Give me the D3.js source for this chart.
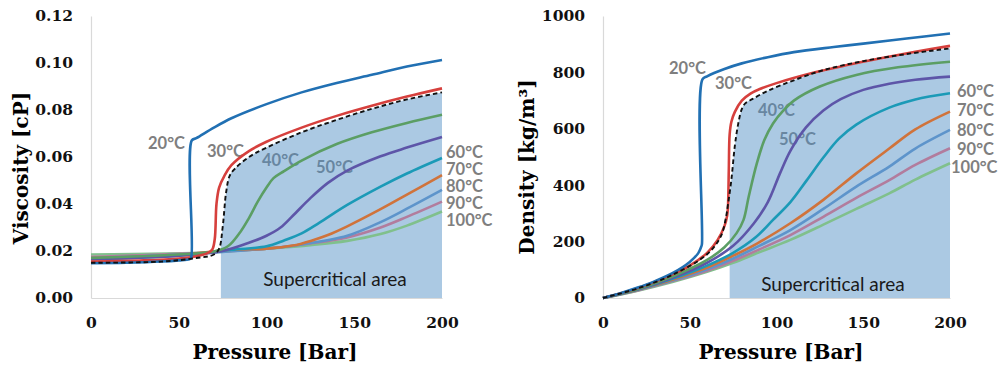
<!DOCTYPE html>
<html>
<head>
<meta charset="utf-8">
<script src="https://cdn.jsdelivr.net/npm/d3@7"></script>
<style>
  body { margin: 0; background: #fff; }
  svg { display: block; }
  .tick text { font-family: "DejaVu Serif", serif; font-weight: bold; font-size: 15.5px; fill: #111; }
</style>
</head>
<body>
<svg id="chart" width="1004" height="365"></svg>
<script>
// temperatures, in the order of the series below
const temps = ['20', '30', '40', '50', '60', '70', '80', '90', '100'];
const colors = ['#2170b3', '#d6403d', '#5b9e64', '#5d55a8', '#1b9ab7', '#d0733b', '#5d94cb', '#b27c9d', '#80c08c'];

const pressureTicks = [0, 50, 100, 150, 200];
const viscTicks = [0, 0.02, 0.04, 0.06, 0.08, 0.10, 0.12];
const densTicks = [0, 200, 400, 600, 800, 1000];

// viscosity [cP] vs pressure [bar]
const visc20 = [[0,0.0148],[20,0.015],[40,0.0155],[50,0.016],[56,0.0165],[57,0.017],[57.4,0.067],[60,0.068],[70,0.0725],[80,0.0765],[100,0.0825],[120,0.0875],[140,0.0915],[160,0.095],[180,0.0985],[200,0.1013]];
const visc30 = [[0,0.0155],[30,0.016],[50,0.0168],[60,0.0178],[66,0.019],[69,0.0205],[70.5,0.025],[71.5,0.04],[73,0.047],[76,0.052],[80,0.0565],[90,0.0625],[100,0.0665],[120,0.0725],[140,0.0775],[160,0.0818],[180,0.0857],[200,0.0892]];
const visc40 = [[0,0.017],[50,0.0185],[70,0.0198],[78,0.022],[85,0.028],[90,0.034],[95,0.041],[100,0.047],[104,0.051],[110,0.054],[120,0.0585],[140,0.0655],[160,0.0705],[180,0.0745],[200,0.078]];
const visc50 = [[0,0.0165],[50,0.018],[75,0.02],[90,0.0235],[100,0.0265],[108,0.03],[115,0.035],[125,0.0425],[135,0.049],[146,0.0542],[165,0.0603],[180,0.064],[200,0.0685]];
const visc60 = [[0,0.0165],[50,0.018],[80,0.0205],[100,0.022],[110,0.0245],[120,0.0275],[130,0.032],[146,0.0396],[165,0.0474],[180,0.053],[200,0.0596]];
const visc70 = [[0,0.017],[50,0.0183],[80,0.0205],[100,0.021],[115,0.0223],[126,0.0245],[135,0.0268],[146,0.0305],[165,0.0378],[180,0.044],[200,0.0523]];
const visc80 = [[0,0.017],[50,0.0185],[100,0.021],[120,0.0228],[146,0.0265],[165,0.0323],[180,0.038],[200,0.046]];
const visc90 = [[0,0.0175],[50,0.0188],[100,0.021],[125,0.0232],[146,0.0258],[165,0.03],[180,0.0345],[200,0.041]];
const visc100 = [[0,0.0185],[70,0.0195],[100,0.021],[125,0.0225],[146,0.0243],[165,0.0272],[180,0.0308],[200,0.0368]];
const viscCrit = [[0,0.015],[40,0.0155],[60,0.017],[70,0.0185],[73,0.021],[75,0.03],[77,0.045],[79,0.052],[82,0.055],[90,0.06],[100,0.064],[120,0.0705],[140,0.0758],[160,0.0805],[180,0.0845],[200,0.0875]];

// density [kg/m3] vs pressure [bar]
const dens20 = [[0,0],[10,17],[20,37],[30,60],[40,88],[50,128],[55,160],[56.5,180],[57,190],[57.3,775],[60,786],[70,812],[80,832],[95,854],[110,872],[133,890],[150,902],[175,920],[200,938]];
const dens30 = [[0,0],[20,35],[40,84],[50,115],[60,160],[66,205],[70,255],[71.5,290],[72,320],[72.5,450],[73,580],[74,625],[76,660],[80,700],[85,725],[90,740],[100,762],[120,797],[140,825],[160,850],[180,873],[200,894]];
const dens40 = [[0,0],[20,32],[40,76],[60,135],[70,180],[77,230],[81,277],[84,360],[88.7,478],[93,560],[98,619],[104,665],[110,700],[125,750],[146,791],[170,818],[200,838]];
const dens50 = [[0,0],[20,31],[40,72],[60,125],[75,185],[87,265],[95,340],[102,442],[108,522],[117,605],[127,665],[137,705],[150,738],[165,760],[180,774],[200,785]];
const dens60 = [[0,0],[20,30],[40,68],[60,115],[75,160],[88,215],[98,277],[108,340],[117.5,418],[127,498],[136,565],[146,615],[165,675],[180,704],[200,726]];
const dens70 = [[0,0],[20,29],[40,65],[60,108],[75,150],[89,194],[108,265],[127,348],[146,442],[165,530],[180,598],[200,661]];
const dens80 = [[0,0],[20,28],[40,62],[60,102],[75,140],[90,185],[108,241],[127,316],[146,395],[165,466],[180,530],[200,596]];
const dens90 = [[0,0],[20,27],[40,60],[60,97],[75,132],[90,172],[108,223],[127,288],[146,355],[165,418],[180,472],[200,531]];
const dens100 = [[0,0],[20,26],[40,57],[60,93],[75,125],[90,162],[108,206],[127,260],[146,316],[165,371],[180,420],[200,478]];
const densCrit = [[0,0],[20,34],[40,82],[60,155],[68,220],[71,290],[72,330],[74,420],[76,540],[78,620],[80,670],[82,690],[86,705],[95,735],[110,772],[127,808],[150,840],[175,865],[200,885]];

const svg = d3.select('#chart');

function drawPanel(cfg) {
  const x = d3.scaleLinear().domain([0, 200]).range(cfg.xRange);
  const y = d3.scaleLinear().domain(cfg.yDomain).range([298, 16]);
  const g = svg.append('g');

  // temperature labels (under the shaded area, like the original)
  cfg.labels.forEach((p, i) => {
    g.append('text')
      .attr('x', p[0]).attr('y', p[1])
      .style('font-family', 'Lato, sans-serif')
      .style('font-weight', 'bold')
      .style('font-size', '16.5px')
      .style('fill', '#7f7f7f')
      .text(temps[i] + '°C');
  });

  // supercritical area: below the dashed curve, right of the critical pressure
  const clipId = 'clip' + cfg.id;
  g.append('clipPath').attr('id', clipId)
    .append('rect')
    .attr('x', x(cfg.critP)).attr('y', 0)
    .attr('width', x(200) - x(cfg.critP)).attr('height', y(0));
  g.append('path')
    .datum(cfg.crit)
    .attr('clip-path', `url(#${clipId})`)
    .attr('fill', '#4f8fc4')
    .attr('fill-opacity', 0.48)
    .attr('d', d3.area().x(d => x(d[0])).y0(y(0)).y1(d => y(d[1])).curve(d3.curveMonotoneX));

  g.append('text')
    .attr('x', cfg.areaLabel[0]).attr('y', cfg.areaLabel[1])
    .attr('text-anchor', 'middle')
    .style('font-family', 'Lato, sans-serif')
    .style('font-size', '19px')
    .style('fill', '#1a1a1a')
    .text('Supercritical area');

  // axes
  const xAxis = g.append('g')
    .attr('transform', `translate(0,${y(0)})`)
    .call(d3.axisBottom(x).tickValues(pressureTicks).tickSize(0).tickPadding(19));
  const yAxis = g.append('g')
    .attr('transform', `translate(${x(0)},0)`)
    .call(d3.axisLeft(y).tickValues(cfg.yTicks).tickSize(0).tickPadding(18).tickFormat(cfg.fmt));
  [xAxis, yAxis].forEach(a => {
    a.select('.domain').attr('stroke', '#d9d9d9').attr('stroke-width', 1.2);
    a.attr('font-family', null).attr('font-size', null);
  });

  const line = d3.line().x(d => x(d[0])).y(d => y(d[1])).curve(d3.curveCatmullRom.alpha(0.5));

  // draw hot curves first so the cold ones sit on top
  cfg.series.slice().reverse().forEach((s, k) => {
    const i = cfg.series.length - 1 - k;
    g.append('path')
      .datum(s)
      .attr('fill', 'none')
      .attr('stroke', colors[i])
      .attr('stroke-width', 2.6)
      .attr('stroke-linejoin', 'round')
      .attr('d', line);
  });

  g.append('path')
    .datum(cfg.crit)
    .attr('fill', 'none')
    .attr('stroke', '#111')
    .attr('stroke-width', 1.9)
    .attr('stroke-dasharray', '4.5,3')
    .attr('d', line);

  // axis titles
  g.append('text')
    .attr('x', cfg.xTitle[0]).attr('y', 359)
    .attr('text-anchor', 'middle')
    .style('font-family', '"DejaVu Serif", serif')
    .style('font-weight', 'bold')
    .style('font-size', '20px')
    .text('Pressure [Bar]');

  g.append('text')
    .attr('transform', `translate(${cfg.yTitle[0]},${cfg.yTitle[1]}) rotate(-90)`)
    .attr('text-anchor', 'middle')
    .attr('dy', '0.35em')
    .style('font-family', '"DejaVu Serif", serif')
    .style('font-weight', 'bold')
    .style('font-size', '20px')
    .text(cfg.yLabel);
}

drawPanel({
  id: 'v',
  xRange: [91, 442],
  yDomain: [0, 0.12],
  yTicks: viscTicks,
  fmt: d3.format('.2f'),
  series: [visc20, visc30, visc40, visc50, visc60, visc70, visc80, visc90, visc100],
  crit: viscCrit,
  critP: 74,
  labels: [[148,148.5],[207,156.5],[262,166],[316,172.5],[446,157.5],[446,174.5],[446,192],[446,208.5],[446,226]],
  areaLabel: [335, 286],
  xTitle: [275],
  yTitle: [21, 168],
  yLabel: 'Viscosity [cP]'
});

drawPanel({
  id: 'd',
  xRange: [603, 950],
  yDomain: [0, 1000],
  yTicks: densTicks,
  fmt: d3.format('d'),
  series: [dens20, dens30, dens40, dens50, dens60, dens70, dens80, dens90, dens100],
  crit: densCrit,
  critP: 73,
  labels: [[669,74],[715,88.5],[758,116],[779,144.5],[957,96.5],[957,116],[957,135.5],[957,154.5],[951,172.5]],
  areaLabel: [833, 291],
  xTitle: [781],
  yTitle: [527, 167],
  yLabel: 'Density [kg/m³]'
});
</script>
</body>
</html>
